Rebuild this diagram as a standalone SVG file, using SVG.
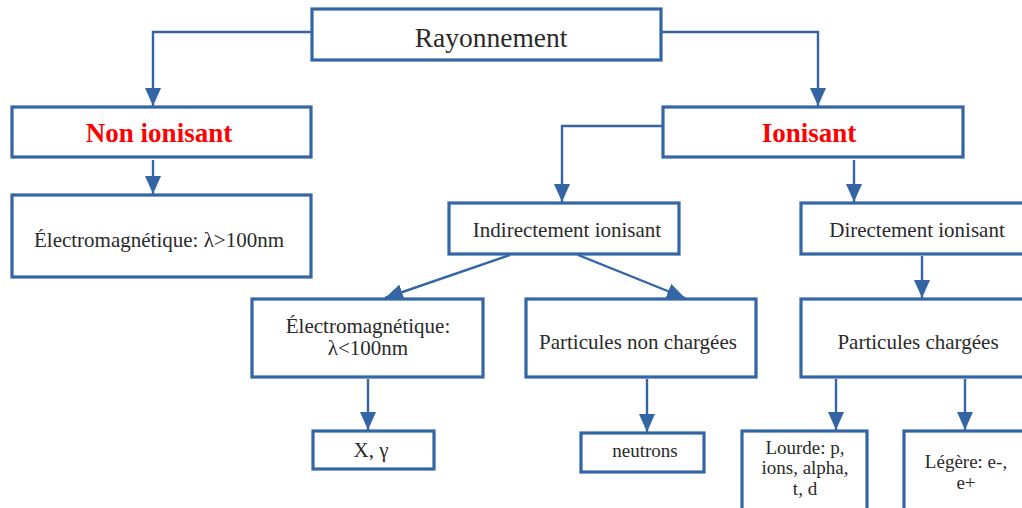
<svg xmlns="http://www.w3.org/2000/svg" width="1022" height="508" viewBox="0 0 1022 508">
<defs>
<marker id="ahb" viewBox="0 0 18 16" refX="18" refY="8" markerWidth="18" markerHeight="16" markerUnits="userSpaceOnUse" orient="auto">
<path d="M0,0 L18,8 L0,16 z" fill="#3465a4"/>
</marker>
</defs>
<style>
.box{fill:#fff;stroke:#3465a4;stroke-width:3.2}
.c{fill:none;stroke:#3465a4;stroke-width:2.4;marker-end:url(#ahb)}
.t{font-family:"Liberation Serif",serif;fill:#2a2a2a;text-anchor:middle;font-size:21px}
.s{font-size:19px}
.r{font-family:"Liberation Serif",serif;fill:#ff0000;font-weight:bold;text-anchor:middle;font-size:27px}
</style>
<rect width="1022" height="508" fill="#fff"/>
<g id="connectors">
<path class="c" d="M312,32 H153 V106"/>
<path class="c" d="M661,32 H818 V106"/>
<path class="c" d="M153,160 V194"/>
<path class="c" d="M663,126 H562 V202"/>
<path class="c" d="M854,160 V202"/>
<path class="c" d="M922,256 V298"/>
<path class="c" d="M510,255 L385,298"/>
<path class="c" d="M578,255 L685,298"/>
<path class="c" d="M368,379 V430"/>
<path class="c" d="M647,379 V432"/>
<path class="c" d="M836,379 V430"/>
<path class="c" d="M965,379 V430"/>
</g>
<g id="rayonnement">
<rect class="box" x="312" y="9" width="349" height="51"/>
<text class="t" x="491" y="47" style="font-size:27.5px">Rayonnement</text>
</g>
<g id="non-ionisant">
<rect class="box" x="12" y="107" width="299" height="50"/>
<text class="r" x="159" y="142">Non ionisant</text>
</g>
<g id="em-sup">
<rect class="box" x="12" y="195" width="299" height="82"/>
<text class="t" x="159" y="247">Électromagnétique: λ&gt;100nm</text>
</g>
<g id="ionisant">
<rect class="box" x="663" y="107" width="300" height="50"/>
<text class="r" x="809" y="142">Ionisant</text>
</g>
<g id="indirect">
<rect class="box" x="449" y="203" width="230" height="51"/>
<text class="t" x="567" y="237">Indirectement ionisant</text>
</g>
<g id="direct">
<rect class="box" x="801" y="203" width="225" height="51"/>
<text class="t" x="917" y="237">Directement ionisant</text>
</g>
<g id="em-inf">
<rect class="box" x="252" y="299" width="231" height="78"/>
<text class="t" x="368" y="333">Électromagnétique:</text>
<text class="t" x="368" y="355">λ&lt;100nm</text>
</g>
<g id="non-chargees">
<rect class="box" x="526" y="299" width="230" height="78"/>
<text class="t" x="638" y="349">Particules non chargées</text>
</g>
<g id="chargees">
<rect class="box" x="801" y="299" width="225" height="78"/>
<text class="t" x="918" y="349">Particules chargées</text>
</g>
<g id="xgamma">
<rect class="box" x="313" y="431" width="121" height="38"/>
<text class="t" x="371" y="457">X, γ</text>
</g>
<g id="neutrons">
<rect class="box" x="581" y="433" width="123" height="39"/>
<text class="t s" x="645" y="457">neutrons</text>
</g>
<g id="lourde">
<rect class="box" x="742" y="431" width="125" height="82"/>
<text class="t s" x="805" y="454">Lourde: p,</text>
<text class="t s" x="805" y="474">ions, alpha,</text>
<text class="t s" x="805" y="495">t, d</text>
</g>
<g id="legere">
<rect class="box" x="904" y="431" width="125" height="82"/>
<text class="t s" x="966" y="468">Légère: e-,</text>
<text class="t s" x="966" y="489">e+</text>
</g>
</svg>
